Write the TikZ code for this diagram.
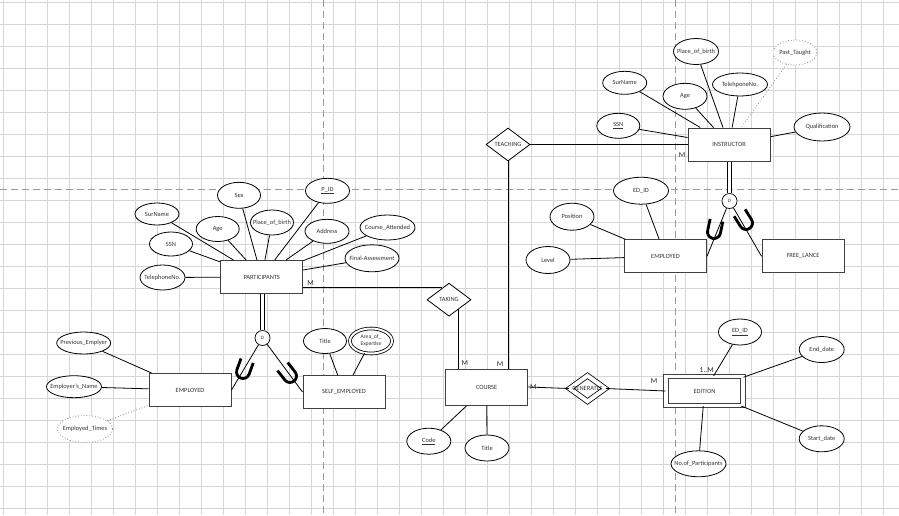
\documentclass[tikz,border=0pt]{standalone}
\usepackage{fontspec}
\setmainfont{Carlito}
\usetikzlibrary{shapes.geometric}

\begin{document}
\begin{tikzpicture}[x=1pt, y=-1pt,
		every node/.style={font=\fontsize{6.4}{7}\selectfont, text=black!80},
		gridline/.style={draw=black!16, line width=0.7pt},
		pageline/.style={draw=black!40, line width=0.8pt, dash pattern=on 7pt off 4pt},
		entity/.style={draw=black!75, line width=1pt, fill=white, minimum width=82pt, minimum height=33pt, inner sep=0pt},
		weakentity/.style={entity, double, double distance=3.5pt, minimum width=77pt, minimum height=29pt},
		attr/.style={ellipse, draw, line width=0.8pt, fill=white, inner ysep=0pt, inner xsep=-6pt, minimum width=44pt, minimum height=26pt},
		derived/.style={attr, draw=black!45, dotted},
		multi/.style={attr, double, double distance=2pt},
		rel/.style={diamond, draw, line width=0.8pt, fill=white, inner sep=0pt, minimum width=44pt, minimum height=33pt},
		weakrel/.style={rel, double, double distance=4pt, minimum width=36pt, minimum height=26pt},
		disjoint/.style={circle, draw, line width=0.7pt, fill=white, minimum size=15pt, inner sep=0pt, font=\fontsize{5}{6}\selectfont},
		card/.style={font=\fontsize{7.5}{8}\selectfont, text=black!85},
		link/.style={line width=0.8pt},
		pics/subsetU/.style={code={\draw[line width=2.8pt] (-6.5,-12) -- (-6.5,0) arc[start angle=180, end angle=0, radius=6.5] -- (6.5,-12);}}
	]
	\useasboundingbox (0,0) rectangle (899,515);
	\clip (0,0) rectangle (899,515);
	
	% sheet grid and page breaks
	\foreach \i in {0,...,40} \draw[gridline] ({3.3+22*\i},0) -- ({3.3+22*\i},515);
	\foreach \j in {0,...,23} \draw[gridline] (0,{2.3+22*\j}) -- (899,{2.3+22*\j});
	\draw[pageline] (323,0) -- (323,515);
	\draw[pageline] (675,0) -- (675,515);
	\draw[pageline] (0,189) -- (899,189);
	
	% entities
	\node[entity] (instr) at (729,144.5) {INSTRUCTOR};
	\node[entity] (empI) at (665.5,256.3) {EMPLOYED};
	\node[entity] (free) at (803,256.3) {FREE\_LANCE};
	\node[entity] (part) at (261.7,277) {PARTICIPANTS};
	\node[entity] (empP) at (190,390) {EMPLOYED};
	\node[entity] (self) at (344,392) {SELF\_EMPLOYED};
	\node[entity, minimum height=36pt] (course) at (486.7,387) {COURSE};
	\node[weakentity] (edition) at (704.5,391) {EDITION};
	
	% relationships
	\node[rel] (teach) at (508,144.5) {TEACHING};
	\node[rel] (taking) at (449,299.7) {TAKING};
	\node[weakrel, label=center:GENERATES] (gen) at (587.5,388.5) {};
	\node[disjoint] (dI) at (729.5,201) {D};
	\node[disjoint] (dP) at (262.5,338) {D};
	
	% attributes of INSTRUCTOR
	\node[attr, minimum width=45pt] (placeI) at (696,51.5) {Place\_of\_birth};
	\node[derived, minimum height=25pt] (pastI) at (795,52.5) {Past\_Taught};
	\node[attr, minimum height=23pt] (surI) at (624.7,82.8) {SurName};
	\node[attr] (ageI) at (685,96.3) {Age};
	\node[attr, minimum width=55pt, minimum height=23pt] (telI) at (740,84.5) {TelehponeNo.};
	\node[attr, minimum width=43pt, minimum height=25pt] (ssnI) at (618.3,125.8) {\underline{SSN}};
	\node[attr, minimum width=56pt, minimum height=28pt] (qualI) at (822,127) {Qualification};
	\node[attr, minimum width=55pt, minimum height=27pt] (edidI) at (641,190.7) {ED\_ID};
	\node[attr, minimum height=27pt] (posI) at (572,216.7) {Position};
	\node[attr, minimum height=27pt] (levI) at (548,260) {Level};
	
	% attributes of PARTICIPANTS
	\node[attr, minimum height=22pt] (surP) at (157,214) {SurName};
	\node[attr, minimum width=43pt, minimum height=24pt] (ssnP) at (171,244) {SSN};
	\node[attr, minimum width=45pt, minimum height=25pt] (telP) at (162.5,277.5) {TelephoneNo.};
	\node[attr, minimum width=43pt, minimum height=25pt] (ageP) at (217.7,229) {Age};
	\node[attr, minimum width=43pt] (sexP) at (239,195.3) {Sex};
	\node[attr, minimum width=43pt, minimum height=25pt] (placeP) at (272,222.5) {Place\_of\_birth};
	\node[attr, minimum height=25pt] (pidP) at (327.5,190.8) {\underline{P\_ID}};
	\node[attr, minimum height=24pt] (addrP) at (327,231.3) {Address};
	\node[attr, minimum width=55pt, minimum height=25pt] (attP) at (387.5,227.5) {Course\_Attended};
	\node[attr, minimum width=54pt, minimum height=27pt] (finP) at (372,258.3) {Final-Assessment};
	\node[attr, minimum width=54pt, minimum height=22pt] (prevE) at (83.7,343) {Previous\_Emplyer};
	\node[attr, minimum width=55pt, minimum height=22pt] (nameE) at (74,386.7) {Employer's\_Name};
	\node[derived, minimum width=55pt, minimum height=27pt] (timesE) at (85,429) {Employed\_Times};
	\node[attr, minimum width=43pt, minimum height=25pt] (titleS) at (325,341) {Title};
	\node[multi, minimum width=42pt, minimum height=25pt, align=center, font=\fontsize{5.6}{7}\selectfont] (areaS) at (371,341) {Area\_of\_\\Expertise};
	
	% attributes of COURSE and EDITION
	\node[attr] (codeC) at (428.8,441.2) {\underline{Code}};
	\node[attr] (titleC) at (487,448) {Title};
	\node[attr, minimum width=43pt] (edidE) at (740,332) {\underline{ED\_ID}};
	\node[attr, minimum width=45pt] (endE) at (821.7,349.5) {End\_date};
	\node[attr, minimum width=45pt] (startE) at (821.7,438.8) {Start\_date};
	\node[attr, minimum width=55pt] (nopE) at (698.5,463.8) {No.of\_Participants};
	
	% attribute links
	\foreach \a in {placeI,surI,ageI,telI,ssnI,qualI} \draw[link] (\a) -- (instr);
	\draw[link, draw=black!45, dotted] (pastI) -- (instr);
	\foreach \a in {edidI,posI,levI} \draw[link] (\a) -- (empI);
	\foreach \a in {surP,ssnP,telP,ageP,sexP,placeP,pidP,addrP,attP,finP} \draw[link] (\a) -- (part);
	\foreach \a in {prevE,nameE} \draw[link] (\a) -- (empP);
	\draw[link, draw=black!45, dotted] (timesE) -- (empP);
	\foreach \a in {titleS,areaS} \draw[link] (\a) -- (self);
	\foreach \a in {codeC,titleC} \draw[link] (\a) -- (course);
	\foreach \a in {edidE,endE,startE,nopE} \draw[link] (\a) -- (edition);
	
	% relationship links
	\draw[link] (teach) -- (instr);
	\draw[link] (teach.south) -- (teach.south |- course.north);
	\draw[link] (taking.119) -- (taking.119 -| part.east);
	\draw[link] (taking.-46) -- (taking.-46 |- course.north);
	\draw[link] (course.east) -- (gen.west);
	\draw[link] (gen.east) -- (edition.west);
	
	% specialisations
	\draw[link, double, double distance=3.5pt] (dI.north |- instr.south) -- (dI.north);
	\draw[link] (dI) -- (empI.east);
	\draw[link] (dI) -- (free.west);
	\draw[link, double, double distance=3.5pt] (dP.north |- part.south) -- (dP.north);
	\draw[link] (dP) -- (empP.east);
	\draw[link] (dP) -- (self.west);
	\pic[rotate=-12] at (714,232) {subsetU};
	\pic[rotate=32] at (746,223) {subsetU};
	\pic[rotate=-20] at (243,372) {subsetU};
	\pic[rotate=38] at (290,376) {subsetU};
	
	% cardinalities
	\node[card] (mI) at (682,155) {M};
	\node[card] (mP) at (310.7,283.3) {M};
	\node[card] (mT) at (464.7,363.3) {M};
	\node[card] (mC) at (500,364.3) {M};
	\node[card] (mG) at (533.3,387.3) {M};
	\node[card] (mE) at (654,380.7) {M};
	\node[card] (mD) at (706.7,370) {1..M};
\end{tikzpicture}
\end{document}
